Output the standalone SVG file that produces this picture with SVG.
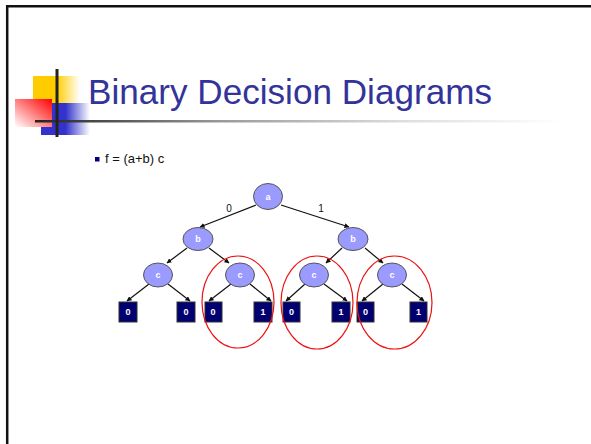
<svg xmlns="http://www.w3.org/2000/svg" width="591" height="444" viewBox="0 0 591 444">
<defs>
<linearGradient id="gY" x1="0" y1="0" x2="1" y2="0"><stop offset="0" stop-color="#ffcc00"/><stop offset="0.5" stop-color="#ffcc00"/><stop offset="1" stop-color="#ffcc00" stop-opacity="0"/></linearGradient>
<linearGradient id="gB" x1="0" y1="0" x2="1" y2="0"><stop offset="0" stop-color="#3333cc"/><stop offset="0.5" stop-color="#3333cc"/><stop offset="1" stop-color="#3333cc" stop-opacity="0"/></linearGradient>
<linearGradient id="gR" x1="1" y1="0" x2="0" y2="1"><stop offset="0" stop-color="#ff0000"/><stop offset="1" stop-color="#ffffff"/></linearGradient>
<linearGradient id="gL" gradientUnits="userSpaceOnUse" x1="35" y1="0" x2="560" y2="0"><stop offset="0" stop-color="#222222"/><stop offset="0.35" stop-color="#999999"/><stop offset="0.7" stop-color="#dddddd"/><stop offset="1" stop-color="#ffffff"/></linearGradient>
<marker id="arr" viewBox="0 0 10 10" refX="9" refY="5" markerWidth="5" markerHeight="5" orient="auto" markerUnits="userSpaceOnUse"><path d="M0,0 L10,5 L0,10 z" fill="#111"/></marker>
</defs>
<style>
.node ellipse{fill:#9a9aff;stroke:#555;stroke-width:1}
.node text{fill:#fff;font-family:"Liberation Sans",Arial,sans-serif;font-weight:bold;font-size:9px;text-anchor:middle}
.leaf rect{fill:#000070;stroke:#333;stroke-width:1}
.leaf text{fill:#fff;font-family:"Liberation Sans",Arial,sans-serif;font-weight:bold;font-size:9px;text-anchor:middle}
.edges line{stroke:#111;stroke-width:1.2;marker-end:url(#arr)}
.lbl{font-family:"Liberation Sans",Arial,sans-serif;font-size:10px;fill:#111;text-anchor:middle}
.ring{fill:none;stroke:#ee1111;stroke-width:1.2}
</style>
<rect x="0" y="0" width="591" height="444" fill="#fff"/>
<path d="M7.2,444 V6.2 H591" fill="none" stroke="#111" stroke-width="2.5"/>
<g id="logo">
<rect x="33" y="76" width="47" height="27" fill="url(#gY)"/>
<rect x="41" y="103" width="49" height="32" fill="url(#gB)"/>
<rect x="15" y="99" width="37" height="28" fill="url(#gR)"/>
<rect x="35" y="120" width="525" height="2.5" fill="url(#gL)"/>
<rect x="55.5" y="69" width="3" height="68" fill="#222"/>
</g>
<text x="88" y="104" font-family="'Liberation Sans',Arial,sans-serif" font-size="35" fill="#333399" textLength="404" lengthAdjust="spacingAndGlyphs">Binary Decision Diagrams</text>
<rect x="95" y="157" width="4.5" height="4.5" fill="#000080"/>
<text x="105" y="163" font-family="'Liberation Sans',Arial,sans-serif" font-size="13" fill="#111">f = (a+b) c</text>
<g class="edges">
<line x1="256" y1="205" x2="200" y2="227"/>
<line x1="281" y1="205" x2="349" y2="227"/>
<line x1="187" y1="248" x2="167" y2="263"/>
<line x1="209" y1="248" x2="229" y2="263"/>
<line x1="342" y1="248" x2="326" y2="263"/>
<line x1="365" y1="248" x2="383" y2="263"/>
<line x1="149" y1="284" x2="127" y2="301"/>
<line x1="168" y1="284" x2="190" y2="301"/>
<line x1="231" y1="284" x2="209" y2="301"/>
<line x1="250" y1="284" x2="271" y2="301"/>
<line x1="305" y1="284" x2="286" y2="301"/>
<line x1="324" y1="284" x2="347" y2="301"/>
<line x1="383" y1="284" x2="362" y2="301"/>
<line x1="402" y1="284" x2="424" y2="301"/>
</g>
<text class="lbl" x="229" y="212">0</text>
<text class="lbl" x="321" y="212">1</text>
<g id="n_a" class="node"><ellipse cx="268" cy="196.5" rx="14.5" ry="13"/><text x="268" y="200">a</text></g>
<g id="n_b1" class="node"><ellipse cx="198" cy="239" rx="15" ry="11.5"/><text x="198" y="242">b</text></g>
<g id="n_b2" class="node"><ellipse cx="353" cy="239" rx="15" ry="11.5"/><text x="353" y="242">b</text></g>
<g id="n_c1" class="node"><ellipse cx="158" cy="275" rx="14.5" ry="12"/><text x="158" y="278">c</text></g>
<g id="n_c2" class="node"><ellipse cx="240" cy="275" rx="14.5" ry="12"/><text x="240" y="278">c</text></g>
<g id="n_c3" class="node"><ellipse cx="314" cy="275" rx="14.5" ry="12"/><text x="314" y="278">c</text></g>
<g id="n_c4" class="node"><ellipse cx="392" cy="275" rx="14.5" ry="12"/><text x="392" y="278">c</text></g>
<g id="l1" class="leaf"><rect x="119" y="302" width="18" height="20"/><text x="128" y="315">0</text></g>
<g id="l2" class="leaf"><rect x="177" y="302" width="18" height="20"/><text x="186" y="315">0</text></g>
<g id="l3" class="leaf"><rect x="205" y="302" width="17" height="20"/><text x="213" y="315">0</text></g>
<g id="l4" class="leaf"><rect x="254" y="302" width="18" height="20"/><text x="263" y="315">1</text></g>
<g id="l5" class="leaf"><rect x="283" y="302" width="17" height="20"/><text x="291.5" y="315">0</text></g>
<g id="l6" class="leaf"><rect x="332" y="302" width="18" height="20"/><text x="341" y="315">1</text></g>
<g id="l7" class="leaf"><rect x="357" y="302" width="17" height="20"/><text x="365.5" y="315">0</text></g>
<g id="l8" class="leaf"><rect x="410" y="302" width="17" height="20"/><text x="418.5" y="315">1</text></g>
<g id="rings">
<ellipse class="ring" cx="238" cy="302" rx="36" ry="46"/>
<ellipse class="ring" cx="317" cy="302.5" rx="36" ry="46.5"/>
<ellipse class="ring" cx="394.5" cy="302.5" rx="37.5" ry="46.5"/>
</g>
</svg>
